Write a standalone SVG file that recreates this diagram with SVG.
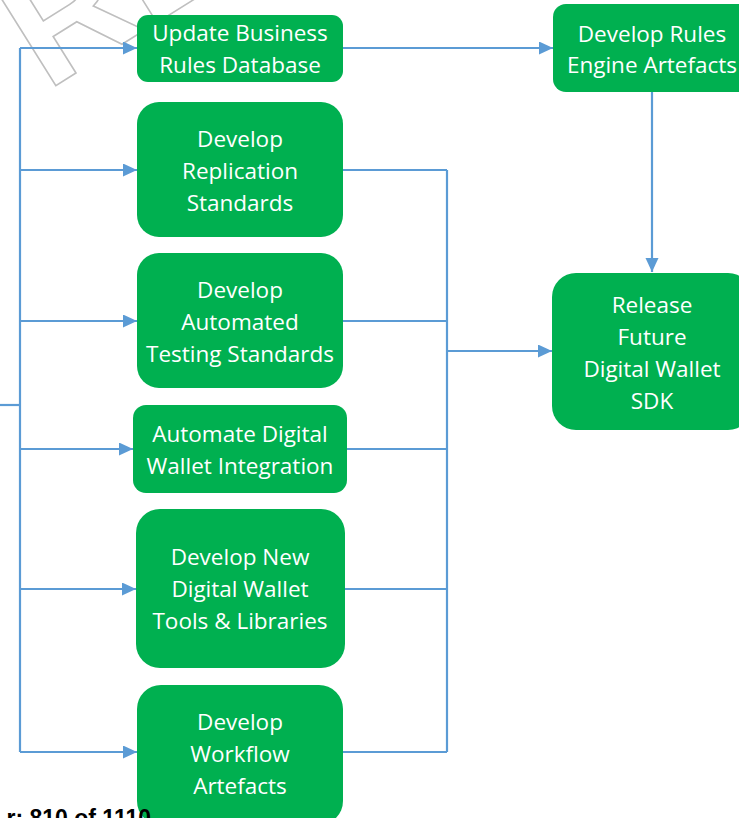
<svg xmlns="http://www.w3.org/2000/svg" width="739" height="818" viewBox="0 0 739 818">
<defs>
<style>
.box{fill:#00B050;}
.lbl{font-family:"Open Sans","Noto Sans","Liberation Sans",sans-serif;font-size:22.5px;fill:#ffffff;text-anchor:middle;}
.con{fill:none;stroke:#5B9BD5;stroke-width:2.2;}
.wm{font-family:"Liberation Sans",Arial,sans-serif;font-weight:bold;font-size:165px;fill:none;stroke:#BFBFBF;stroke-width:1.6;}
.foot{font-family:"Liberation Sans",Arial,sans-serif;font-weight:bold;font-size:23px;fill:#000000;text-anchor:end;}
</style>
<marker id="arr" markerUnits="userSpaceOnUse" markerWidth="15" markerHeight="14" refX="14" refY="6.5" orient="auto">
<path d="M0,0 L14,6.5 L0,13 z" fill="#5B9BD5"/>
</marker>
</defs>
<rect width="739" height="818" fill="#ffffff"/>
<g id="watermark">
<text class="wm" transform="translate(46.5,91.6) rotate(-32)">RESTRICTED</text>
</g>
<g id="connectors">
<path class="con" d="M0,405 H20"/>
<path class="con" d="M20,48 V752"/>
<path class="con" d="M20,48 H137" marker-end="url(#arr)"/>
<path class="con" d="M20,170 H137" marker-end="url(#arr)"/>
<path class="con" d="M20,321 H137" marker-end="url(#arr)"/>
<path class="con" d="M20,449 H133" marker-end="url(#arr)"/>
<path class="con" d="M20,589 H136" marker-end="url(#arr)"/>
<path class="con" d="M20,752 H137" marker-end="url(#arr)"/>
<path class="con" d="M343,48 H553" marker-end="url(#arr)"/>
<path class="con" d="M652,92 V272" marker-end="url(#arr)"/>
<path class="con" d="M343,170 H447"/>
<path class="con" d="M343,321 H447"/>
<path class="con" d="M347,449 H447"/>
<path class="con" d="M345,589 H447"/>
<path class="con" d="M343,752 H447"/>
<path class="con" d="M447,170 V752"/>
<path class="con" d="M447,351 H552" marker-end="url(#arr)"/>
</g>
<g id="n1">
<rect class="box" x="137" y="15" width="206" height="67" rx="11"/>
<text class="lbl" x="240" y="41">Update Business</text>
<text class="lbl" x="240" y="73">Rules Database</text>
</g>
<g id="n2">
<rect class="box" x="137" y="102" width="206" height="135" rx="22"/>
<text class="lbl" x="240" y="147">Develop</text>
<text class="lbl" x="240" y="179">Replication</text>
<text class="lbl" x="240" y="211">Standards</text>
</g>
<g id="n3">
<rect class="box" x="137" y="253" width="206" height="135" rx="22"/>
<text class="lbl" x="240" y="298">Develop</text>
<text class="lbl" x="240" y="330">Automated</text>
<text class="lbl" x="240" y="362">Testing Standards</text>
</g>
<g id="n4">
<rect class="box" x="133" y="405" width="214" height="88" rx="13"/>
<text class="lbl" x="240" y="442">Automate Digital</text>
<text class="lbl" x="240" y="474">Wallet Integration</text>
</g>
<g id="n5">
<rect class="box" x="136" y="509" width="209" height="159" rx="24"/>
<text class="lbl" x="240" y="565">Develop New</text>
<text class="lbl" x="240" y="597">Digital Wallet</text>
<text class="lbl" x="240" y="629">Tools &amp; Libraries</text>
</g>
<g id="n6">
<rect class="box" x="137" y="685" width="206" height="140" rx="24"/>
<text class="lbl" x="240" y="730">Develop</text>
<text class="lbl" x="240" y="762">Workflow</text>
<text class="lbl" x="240" y="794">Artefacts</text>
</g>
<g id="n7">
<rect class="box" x="553" y="4" width="200" height="88" rx="13"/>
<text class="lbl" x="652" y="42">Develop Rules</text>
<text class="lbl" x="652" y="73">Engine Artefacts</text>
</g>
<g id="n8">
<rect class="box" x="552" y="273" width="200" height="157" rx="24"/>
<text class="lbl" x="652" y="313">Release</text>
<text class="lbl" x="652" y="345">Future</text>
<text class="lbl" x="652" y="377">Digital Wallet</text>
<text class="lbl" x="652" y="409">SDK</text>
</g>
<g id="footer">
<text class="foot" x="151" y="826">r: 810 of 1110</text>
</g>
</svg>
